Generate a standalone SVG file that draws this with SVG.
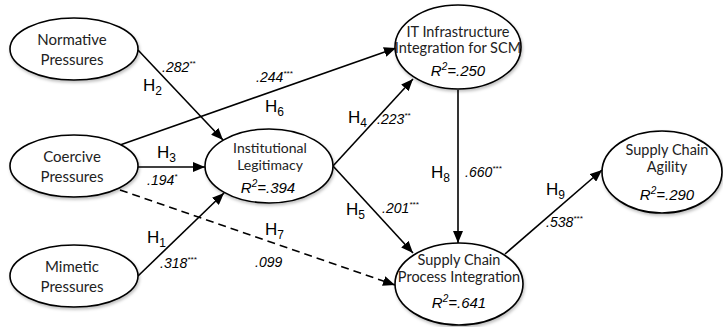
<svg xmlns="http://www.w3.org/2000/svg" width="723" height="327" viewBox="0 0 723 327">
<style>
.node ellipse{fill:#fff;stroke:#000;stroke-width:1.6;filter:url(#sh)}
.nt{font-family:Lato,"Open Sans",sans-serif;font-size:15px;fill:#222;text-anchor:middle}
.r2{font-family:"Liberation Sans",Arial,sans-serif;font-style:italic;font-size:15px;fill:#000;text-anchor:middle}
.ln{stroke:#000;stroke-width:1.6;fill:none;marker-end:url(#ah)}
.dash{stroke-dasharray:8,5}
.h{font-family:"Liberation Sans",Arial,sans-serif;font-size:17px;fill:#000}
.v{font-family:"Liberation Sans",Arial,sans-serif;font-style:italic;font-size:14px;fill:#000}
.sub{font-size:12px}
.sup{font-size:8px}
</style>
<defs>
<marker id="ah" viewBox="0 0 12 10" refX="12" refY="5" markerWidth="12" markerHeight="10" markerUnits="userSpaceOnUse" orient="auto">
<path d="M0,0 L12,5 L0,10 Z" fill="#000"/>
</marker>
<filter id="sh" x="-10%" y="-10%" width="125%" height="130%">
<feDropShadow dx="1" dy="2" stdDeviation="1.5" flood-color="#000" flood-opacity="0.25"/>
</filter>
</defs>
<rect width="723" height="327" fill="#fff"/>
<g id="connectors">
<path class="ln" d="M138,50 L223,140"/>
<path class="ln" d="M120,145 L396,48"/>
<path class="ln" d="M138,167 L205,167"/>
<path class="ln dash" d="M120,190 L395,285"/>
<path class="ln" d="M138,276 L224,193"/>
<path class="ln" d="M333,166 L413,79"/>
<path class="ln" d="M333,166 L413,253"/>
<path class="ln" d="M458,90 L458,243"/>
<path class="ln" d="M505,254 L602,170"/>
</g>
<g id="labels">
<text class="v" x="162" y="72">.282<tspan class="sup" dy="-6">**</tspan></text>
<text class="h" x="143" y="91">H<tspan class="sub" dy="4">2</tspan></text>
<text class="v" x="256" y="82">.244<tspan class="sup" dy="-6">***</tspan></text>
<text class="h" x="265" y="112">H<tspan class="sub" dy="4">6</tspan></text>
<text class="h" x="157" y="158">H<tspan class="sub" dy="4">3</tspan></text>
<text class="v" x="147" y="185">.194<tspan class="sup" dy="-6">*</tspan></text>
<text class="h" x="147" y="243">H<tspan class="sub" dy="4">1</tspan></text>
<text class="v" x="160" y="268">.318<tspan class="sup" dy="-6">***</tspan></text>
<text class="h" x="348" y="123">H<tspan class="sub" dy="4">4</tspan></text>
<text class="v" x="377" y="124">.223<tspan class="sup" dy="-6">**</tspan></text>
<text class="h" x="346" y="215">H<tspan class="sub" dy="4">5</tspan></text>
<text class="v" x="382" y="213">.201<tspan class="sup" dy="-6">***</tspan></text>
<text class="h" x="265" y="235">H<tspan class="sub" dy="4">7</tspan></text>
<text class="v" x="255" y="267">.099</text>
<text class="h" x="431" y="178">H<tspan class="sub" dy="4">8</tspan></text>
<text class="v" x="465" y="177">.660<tspan class="sup" dy="-6">***</tspan></text>
<text class="h" x="546" y="195">H<tspan class="sub" dy="4">9</tspan></text>
<text class="v" x="546" y="227">.538<tspan class="sup" dy="-6">***</tspan></text>
</g>
<g id="normative" class="node">
<ellipse cx="74" cy="49" rx="64" ry="31"/>
<text class="nt" x="72" y="45">Normative</text>
<text class="nt" x="72" y="65">Pressures</text>
</g>
<g id="coercive" class="node">
<ellipse cx="74" cy="166" rx="64" ry="31"/>
<text class="nt" x="72" y="162">Coercive</text>
<text class="nt" x="72" y="182">Pressures</text>
</g>
<g id="mimetic" class="node">
<ellipse cx="74" cy="276" rx="64" ry="31"/>
<text class="nt" x="72" y="272">Mimetic</text>
<text class="nt" x="72" y="292">Pressures</text>
</g>
<g id="legitimacy" class="node">
<ellipse cx="269" cy="166" rx="64" ry="37"/>
<text class="nt" x="270" y="153" style="font-size:14px">Institutional</text>
<text class="nt" x="270" y="170" style="font-size:14px">Legitimacy</text>
<text class="r2" x="268" y="193">R<tspan class="sup" style="font-size:10px" dy="-6">2</tspan><tspan dy="6">=.394</tspan></text>
</g>
<g id="itinfra" class="node">
<ellipse cx="458" cy="47" rx="63" ry="42"/>
<text class="nt" x="458" y="37" style="font-size:14.5px">IT Infrastructure</text>
<text class="nt" x="458" y="53" style="font-size:14.5px">Integration for SCM</text>
<text class="r2" x="458" y="76">R<tspan class="sup" style="font-size:10px" dy="-6">2</tspan><tspan dy="6">=.250</tspan></text>
</g>
<g id="scpi" class="node">
<ellipse cx="459" cy="284" rx="64" ry="41"/>
<text class="nt" x="459" y="265" style="font-size:14.5px">Supply Chain</text>
<text class="nt" x="459" y="282" style="font-size:14.5px">Process Integration</text>
<text class="r2" x="459" y="308">R<tspan class="sup" style="font-size:10px" dy="-6">2</tspan><tspan dy="6">=.641</tspan></text>
</g>
<g id="agility" class="node">
<ellipse cx="662" cy="172" rx="60" ry="41"/>
<text class="nt" x="667" y="155" style="font-size:14.5px">Supply Chain</text>
<text class="nt" x="667" y="172" style="font-size:14.5px">Agility</text>
<text class="r2" x="667" y="200">R<tspan class="sup" style="font-size:10px" dy="-6">2</tspan><tspan dy="6">=.290</tspan></text>
</g>
</svg>
